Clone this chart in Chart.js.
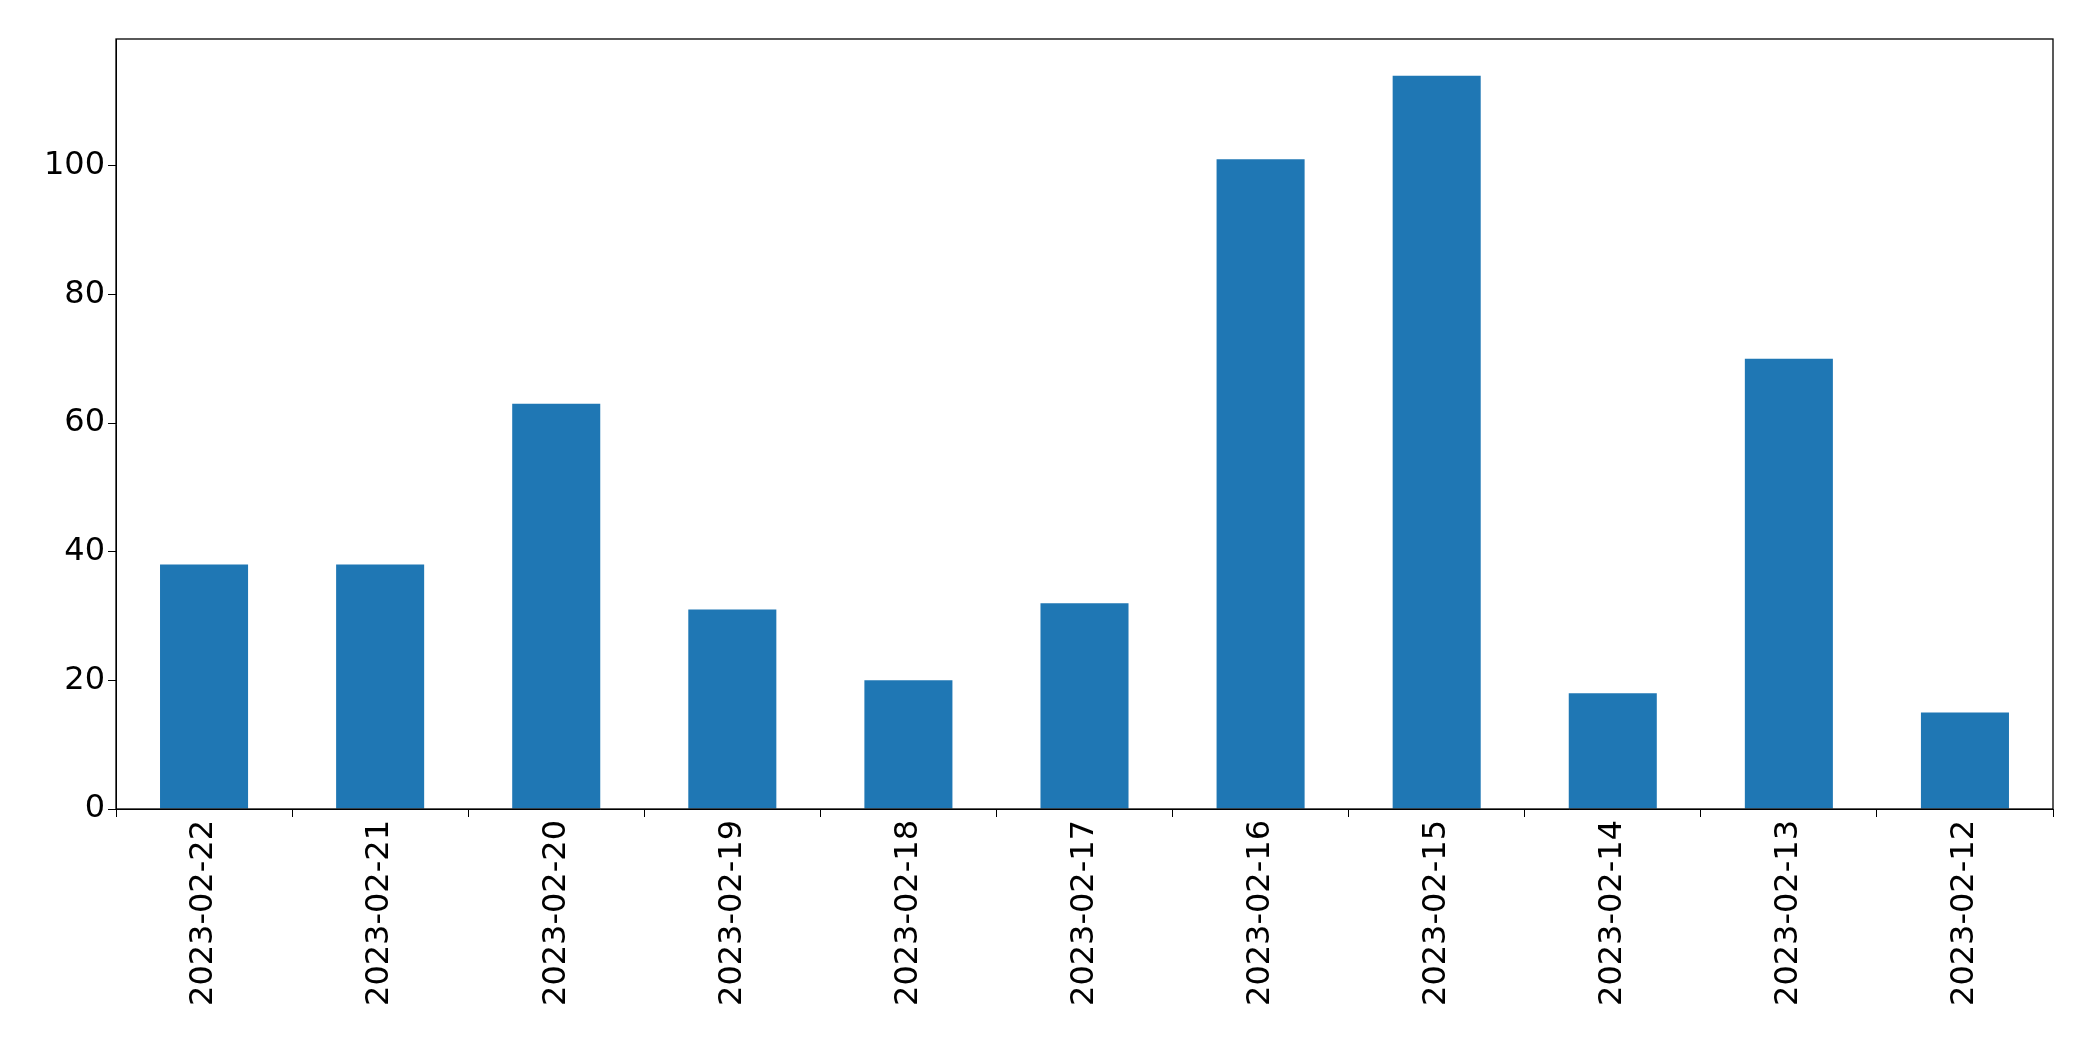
<!DOCTYPE html>
<html>
<head>
<script src="https://cdn.jsdelivr.net/npm/chart.js@4/dist/chart.umd.min.js"></script>
<style>
  html, body { margin: 0; padding: 0; background: #fff; }
  #wrap { width: 2093px; height: 1061px; }
</style>
</head>
<body>
<div id="wrap"><canvas id="grafico"></canvas></div>
<script>
const categorias = ["2023-02-22", "2023-02-21", "2023-02-20", "2023-02-19", "2023-02-18", "2023-02-17",
  "2023-02-16", "2023-02-15", "2023-02-14", "2023-02-13", "2023-02-12"];
const valores = [38, 38, 63, 31, 20, 32, 101, 114, 18, 70, 15];
const ticksY = [0, 20, 40, 60, 80, 100];

// moldura em volta da área do gráfico
const moldura = {
  id: "moldura",
  afterDraw(chart) {
    const { ctx, chartArea: a } = chart;
    ctx.save();
    ctx.strokeStyle = "#000";
    ctx.lineWidth = 1.3;
    ctx.strokeRect(a.left, a.top, a.right - a.left, a.bottom - a.top);
    ctx.restore();
  }
};

new Chart(document.getElementById("grafico").getContext("2d"), {
  type: "bar",
  data: {
    labels: categorias,
    datasets: [{
      data: valores,
      backgroundColor: "#1f77b4",
      barPercentage: 0.5,
      categoryPercentage: 1
    }]
  },
  options: {
    responsive: true,
    maintainAspectRatio: false,
    animation: false,
    layout: { padding: { top: 39, right: 40, left: 0, bottom: 0 } },
    plugins: { legend: { display: false }, tooltip: { enabled: false } },
    scales: {
      x: {
        afterFit(s) { s.height = 252; },
        grid: { drawOnChartArea: false, drawTicks: true, tickLength: 8, color: "#000" },
        border: { color: "#000" },
        ticks: {
          color: "#000", minRotation: 90, maxRotation: 90,
          font: { family: "DejaVu Sans", size: 32 }
        }
      },
      y: {
        min: 0,
        max: 119.7,
        afterFit(s) { s.width = 116; },
        afterBuildTicks(s) { s.ticks = ticksY.map(v => ({ value: v })); },
        grid: { drawOnChartArea: false, drawTicks: true, tickLength: 8, color: "#000" },
        border: { color: "#000" },
        ticks: { color: "#000", font: { family: "DejaVu Sans", size: 32 } }
      }
    }
  },
  plugins: [moldura]
});
</script>
</body>
</html>
